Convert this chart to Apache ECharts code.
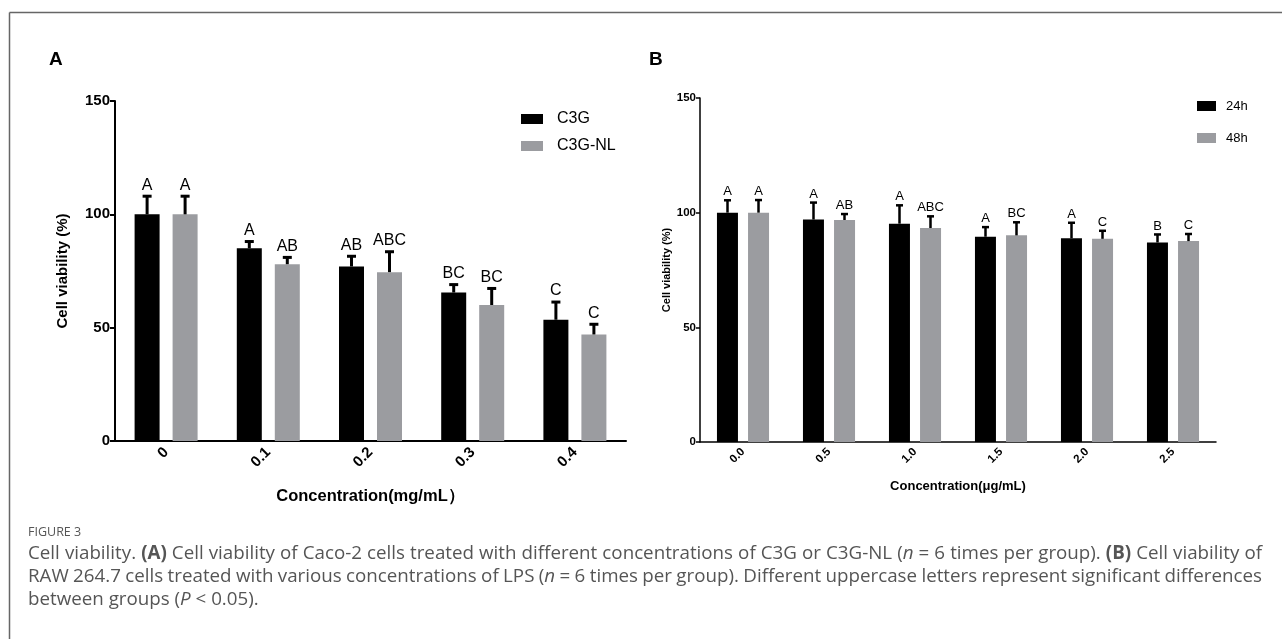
<!DOCTYPE html>
<html>
<head>
<meta charset="utf-8">
<script src="https://cdn.jsdelivr.net/npm/echarts@6/dist/echarts.min.js"></script>
<style>
html,body{margin:0;padding:0;background:#fff;}
#main{width:1282px;height:639px;}
</style>
</head>
<body>
<div id="main"></div>
<script>
// ---- Panel A data ----
const catsA = ['0', '0.1', '0.2', '0.3', '0.4'];
const c3g = [100, 85, 77, 65.5, 53.5];
const c3gErr = [8, 3, 4.5, 3.5, 7.8];
const c3gLetters = ['A', 'A', 'AB', 'BC', 'C'];
const c3gNL = [100, 78, 74.5, 60, 47];
const c3gNLErr = [8, 3, 9, 7.3, 4.5];
const c3gNLLetters = ['A', 'AB', 'ABC', 'BC', 'C'];
const yTicksA = [0, 50, 100, 150];

// ---- Panel B data ----
const catsB = ['0.0', '0.5', '1.0', '1.5', '2.0', '2.5'];
const h24 = [100, 97, 95.2, 89.5, 88.8, 87];
const h24Err = [5.4, 7.4, 8, 4.2, 6.8, 3.5];
const h24Letters = ['A', 'A', 'A', 'A', 'A', 'B'];
const h48 = [100, 96.8, 93.3, 90.1, 88.6, 87.6];
const h48Err = [5.5, 2.6, 5.1, 5.7, 3.5, 3.1];
const h48Letters = ['A', 'AB', 'ABC', 'BC', 'C', 'C'];
const yTicksB = [0, 50, 100, 150];

// ---- Caption ----
const capLines = [
  [['t', 'Cell viability. '], ['b', '(A)'], ['t', ' Cell viability of Caco-2 cells treated with different concentrations of C3G or C3G-NL ('], ['i', 'n'], ['t', ' = 6 times per group). '], ['b', '(B)'], ['t', ' Cell viability of']],
  [['t', 'RAW 264.7 cells treated with various concentrations of LPS ('], ['i', 'n'], ['t', ' = 6 times per group). Different uppercase letters represent significant differences']],
  [['t', 'between groups ('], ['i', 'P'], ['t', ' < 0.05).']]
];

const BLACK = '#000000';
const GREY = '#9b9ca0';
const FONT = 'Liberation Sans, Arial, sans-serif';
const NARROW = '"Liberation Sans Narrow", "Liberation Sans", Arial, sans-serif';
const CAPFONT = '"Open Sans", Lato, sans-serif';
const CAPCOLOR = '#555';
const CAP_W = 1234;

function errSeries(name, xi, yi, vals, errs, letters, offset, capW, lw, fontSize, gap) {
  return {
    type: 'custom', name: name, xAxisIndex: xi, yAxisIndex: yi, z: 5,
    silent: true,
    data: vals.map((v, i) => [i, v, errs[i]]),
    renderItem: function (params, api) {
      const i = api.value(0), v = api.value(1), e = api.value(2);
      const p0 = api.coord([i, v]);
      const p1 = api.coord([i, v + e]);
      const x = p0[0] + offset;
      return {
        type: 'group',
        children: [
          { type: 'line', shape: { x1: x, y1: p0[1], x2: x, y2: p1[1] }, style: { stroke: '#000', lineWidth: lw } },
          { type: 'line', shape: { x1: x - capW / 2, y1: p1[1], x2: x + capW / 2, y2: p1[1] }, style: { stroke: '#000', lineWidth: lw } },
          { type: 'text', x: x, y: p1[1] - gap, style: { text: letters[params.dataIndex], fill: '#000', font: fontSize + 'px ' + FONT, align: 'center', verticalAlign: 'bottom' } }
        ]
      };
    }
  };
}

// caption: font sized so the first line fills the caption width, lines justified
const mctx = document.createElement('canvas').getContext('2d');
function cssFont(style, size) {
  return (style === 'b' ? 'bold ' : style === 'i' ? 'italic ' : '') + size + 'px ' + CAPFONT;
}
function measure(style, txt, size) { mctx.font = cssFont(style, size); return mctx.measureText(txt).width; }
function lineWidth(segs, size) { return segs.reduce((a, [s, t]) => a + measure(s, t, size), 0); }
let CAPSIZE = 16 * (CAP_W - 4) / lineWidth(capLines[0], 16);
CAPSIZE = Math.max(13, Math.min(20, CAPSIZE));

function buildLine(segs, targetW, justify) {
  let spaces = 0;
  segs.forEach(([s, txt]) => { spaces += (txt.match(/ /g) || []).length; });
  const natural = lineWidth(segs, CAPSIZE);
  const spW = measure('t', ' ', CAPSIZE);
  const w = justify && spaces ? spW + (targetW - natural) / spaces : spW;
  const parts = [];
  segs.forEach(([s, txt]) => {
    txt.split(' ').forEach((p, j) => {
      if (j > 0) parts.push('{sp| }');
      if (p.length) parts.push('{' + s + '|' + p + '}');
    });
  });
  const base = { fontFamily: CAPFONT, fontSize: CAPSIZE, fill: CAPCOLOR };
  return {
    text: parts.join(''),
    rich: {
      t: Object.assign({}, base),
      b: Object.assign({ fontWeight: 'bold' }, base),
      i: Object.assign({ fontStyle: 'italic' }, base),
      sp: Object.assign({ width: w }, base)
    }
  };
}

const chart = echarts.init(document.getElementById('main'), null, { renderer: 'canvas' });

const captionGraphics = capLines.map((segs, k) => {
  const built = buildLine(segs, CAP_W, k < capLines.length - 1);
  return { type: 'text', left: 28, top: 555 - CAPSIZE / 2 - 1 + k * 23, style: { text: built.text, rich: built.rich } };
});

chart.setOption({
  animation: false,
  backgroundColor: '#fff',
  graphic: [
    { type: 'line', shape: { x1: 9.5, y1: 12.5, x2: 1282, y2: 12.5 }, style: { stroke: '#666', lineWidth: 1.5 } },
    { type: 'line', shape: { x1: 9.5, y1: 12.5, x2: 9.5, y2: 639 }, style: { stroke: '#666', lineWidth: 1.5 } },
    { type: 'text', left: 49, top: 50, style: { text: 'A', font: 'bold 19px ' + FONT, fill: '#000' } },
    { type: 'text', left: 649, top: 50, style: { text: 'B', font: 'bold 19px ' + FONT, fill: '#000' } },
    { type: 'text', left: 28, top: 526, style: { text: 'FIGURE 3', font: '12.5px ' + CAPFONT, fill: CAPCOLOR } }
  ].concat(captionGraphics),
  legend: [
    {
      left: 516, top: 105, orient: 'vertical', icon: 'rect', itemWidth: 22, itemHeight: 10, itemGap: 9,
      data: ['C3G', 'C3G-NL'], selectedMode: false,
      textStyle: { fontFamily: FONT, fontSize: 16, color: '#000', padding: [0, 0, 0, 9], lineHeight: 18 }
    },
    {
      left: 1192, top: 93, orient: 'vertical', icon: 'rect', itemWidth: 19, itemHeight: 10, itemGap: 16,
      data: ['24h', '48h'], selectedMode: false,
      textStyle: { fontFamily: FONT, fontSize: 13, color: '#000', padding: [0, 0, 0, 5], lineHeight: 16 }
    }
  ],
  grid: [
    { left: 115, top: 101, width: 511, height: 340 },
    { left: 700, top: 98, width: 516, height: 344 }
  ],
  xAxis: [
    {
      gridIndex: 0, type: 'category', data: catsA,
      axisLine: { lineStyle: { color: '#000', width: 2 } },
      axisTick: { alignWithLabel: true, length: 5, lineStyle: { color: '#000', width: 2 } },
      axisLabel: { rotate: 45, margin: 9, color: '#000', fontFamily: FONT, fontWeight: 'bold', fontSize: 15 },
      name: 'Concentration(mg/mL\uFF09', nameLocation: 'middle', nameGap: 47,
      nameTextStyle: { fontFamily: NARROW, fontWeight: 'bold', fontSize: 16.5, color: '#000' }
    },
    {
      gridIndex: 1, type: 'category', data: catsB,
      axisLine: { lineStyle: { color: '#000', width: 1.5 } },
      axisTick: { alignWithLabel: true, length: 4, lineStyle: { color: '#000', width: 1.5 } },
      axisLabel: { rotate: 45, margin: 8, color: '#000', fontFamily: FONT, fontWeight: 'bold', fontSize: 11.5 },
      name: 'Concentration(\u03BCg/mL)', nameLocation: 'middle', nameGap: 38,
      nameTextStyle: { fontFamily: NARROW, fontWeight: 'bold', fontSize: 13, color: '#000' }
    }
  ],
  yAxis: [
    {
      gridIndex: 0, type: 'value', min: 0, max: 150, interval: 50,
      axisLine: { show: true, lineStyle: { color: '#000', width: 2 } },
      axisTick: { show: true, length: 5, lineStyle: { color: '#000', width: 2 } },
      splitLine: { show: false },
      axisLabel: { color: '#000', fontFamily: FONT, fontWeight: 'bold', fontSize: 15, margin: 5,
        formatter: v => yTicksA.includes(v) ? String(v) : '' },
      name: 'Cell viability (%)', nameLocation: 'middle', nameGap: 45,
      nameTextStyle: { fontFamily: FONT, fontWeight: 'bold', fontSize: 15, color: '#000' }
    },
    {
      gridIndex: 1, type: 'value', min: 0, max: 150, interval: 50,
      axisLine: { show: true, lineStyle: { color: '#000', width: 1.5 } },
      axisTick: { show: true, length: 4, lineStyle: { color: '#000', width: 1.5 } },
      splitLine: { show: false },
      axisLabel: { color: '#000', fontFamily: FONT, fontWeight: 'bold', fontSize: 11.5, margin: 4,
        formatter: v => yTicksB.includes(v) ? String(v) : '' },
      name: 'Cell viability (%)', nameLocation: 'middle', nameGap: 27,
      nameTextStyle: { fontFamily: FONT, fontWeight: 'bold', fontSize: 11, color: '#000' }
    }
  ],
  series: [
    { name: 'C3G', type: 'bar', xAxisIndex: 0, yAxisIndex: 0, data: c3g, barWidth: 25, barGap: '52%', itemStyle: { color: BLACK } },
    { name: 'C3G-NL', type: 'bar', xAxisIndex: 0, yAxisIndex: 0, data: c3gNL, barWidth: 25, barGap: '52%', itemStyle: { color: GREY } },
    errSeries('errA1', 0, 0, c3g, c3gErr, c3gLetters, -19, 9, 3, 16, 3),
    errSeries('errA2', 0, 0, c3gNL, c3gNLErr, c3gNLLetters, 19, 9, 3, 16, 3),
    { name: '24h', type: 'bar', xAxisIndex: 1, yAxisIndex: 1, data: h24, barWidth: 21, barGap: '48%', itemStyle: { color: BLACK } },
    { name: '48h', type: 'bar', xAxisIndex: 1, yAxisIndex: 1, data: h48, barWidth: 21, barGap: '48%', itemStyle: { color: GREY } },
    errSeries('errB1', 1, 1, h24, h24Err, h24Letters, -15.5, 7, 2.5, 13, 2),
    errSeries('errB2', 1, 1, h48, h48Err, h48Letters, 15.5, 7, 2.5, 13, 2)
  ]
});
</script>
</body>
</html>
